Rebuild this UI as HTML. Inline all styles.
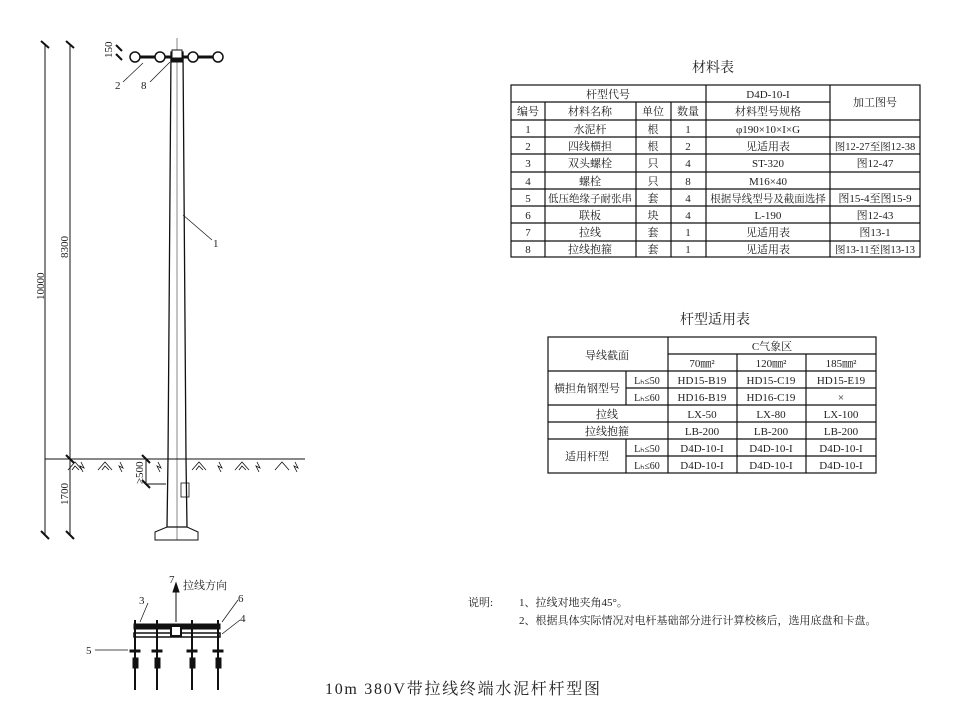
<!DOCTYPE html>
<html><head><meta charset="utf-8"><style>
body{margin:0;background:#fff}
svg{display:block}
text{font-family:"Liberation Serif","Noto Serif CJK SC","Noto Sans CJK SC",serif;fill:#222}
</style></head><body>
<svg width="963" height="726" viewBox="0 0 963 726" xmlns="http://www.w3.org/2000/svg">
<g stroke="#111" fill="none" stroke-width="1">
<line x1="45" y1="44" x2="45" y2="535"/>
<line x1="70" y1="44" x2="70" y2="535"/>
<line x1="45" y1="459" x2="70" y2="459"/>
<g stroke-width="2">
<line x1="41" y1="41" x2="49" y2="48"/><line x1="66" y1="41" x2="74" y2="48"/>
<line x1="66" y1="455" x2="74" y2="463"/>
<line x1="41" y1="531" x2="49" y2="539"/><line x1="66" y1="531" x2="74" y2="539"/>
<line x1="116" y1="45" x2="122" y2="51"/><line x1="116" y1="54" x2="122" y2="60"/>
<line x1="142" y1="455" x2="150" y2="463"/><line x1="142" y1="480" x2="150" y2="488"/>
</g>
<line x1="146" y1="459" x2="146" y2="484"/>
<line x1="146" y1="484" x2="166" y2="484"/>
<line x1="47" y1="459" x2="305" y2="459"/>
<g stroke-width="0.8">
<path d="M68 470 L75 462 L82 470 M72 470 L75 466 L79 470"/>
<path d="M98 470 L105 462 L112 470 M102 470 L105 466 L109 470"/>
<path d="M192 470 L199 462 L206 470 M196 470 L199 466 L203 470"/>
<path d="M235 470 L242 462 L249 470 M239 470 L242 466 L246 470"/>
<path d="M275 470 L282 462 L289 470"/>
<path d="M81 462 L84 468 L80 466 L83 472"/><path d="M120 462 L123 468 L119 466 L122 472"/>
<path d="M158 462 L161 468 L157 466 L160 472"/><path d="M219 462 L222 468 L218 466 L221 472"/>
<path d="M257 462 L260 468 L256 466 L259 472"/><path d="M295 462 L298 468 L294 466 L297 472"/>
</g>
<path d="M171 52 L183 52 L186 459 L187 527 L167 527 L168 459 Z" stroke-width="1.3"/>
<line x1="177" y1="38" x2="177" y2="540" stroke-width="0.5"/>
<path d="M167 527 L187 527 L198 532 L198 540 L155 540 L155 532 Z"/>
<rect x="181" y="483" width="8" height="14" stroke-width="0.8"/>
<line x1="134" y1="57" x2="218" y2="57" stroke-width="3"/>
<g fill="#fff" stroke-width="1.5">
<circle cx="135" cy="57" r="5"/><circle cx="160" cy="57" r="5"/><circle cx="193" cy="57" r="5"/><circle cx="218" cy="57" r="5"/>
</g>
<rect x="172" y="50" width="10" height="9" fill="#fff"/>
<rect x="172" y="58" width="10" height="4" fill="#111"/>
<line x1="143" y1="63" x2="123" y2="82" stroke-width="0.7"/>
<line x1="170" y1="62" x2="150" y2="82" stroke-width="0.7"/>
<line x1="183" y1="215" x2="212" y2="240" stroke-width="0.7"/>
<line x1="176" y1="622" x2="176" y2="590"/>
<path d="M173 592 L176 583 L179 592 Z" fill="#111"/>
<rect x="134" y="624" width="86" height="5" fill="#111"/>
<rect x="134" y="633" width="86" height="4" stroke-width="1.5"/>
<rect x="171" y="626" width="10" height="10" fill="#fff" stroke-width="2"/>
<g stroke-width="2">
<line x1="135" y1="620" x2="135" y2="690"/><line x1="157" y1="620" x2="157" y2="690"/>
<line x1="192" y1="620" x2="192" y2="690"/><line x1="218" y1="620" x2="218" y2="690"/>
</g>
<g fill="#111">
<rect x="130" y="650" width="10" height="2"/><rect x="152" y="650" width="10" height="2"/><rect x="187" y="650" width="10" height="2"/><rect x="213" y="650" width="10" height="2"/>
<rect x="133" y="658" width="5" height="10"/><rect x="155" y="658" width="5" height="10"/><rect x="190" y="658" width="5" height="10"/><rect x="216" y="658" width="5" height="10"/>
</g>
<line x1="95" y1="650" x2="128" y2="650" stroke-width="0.7"/>
<line x1="148" y1="603" x2="140" y2="622" stroke-width="0.7"/>
<line x1="238" y1="600" x2="222" y2="622" stroke-width="0.7"/>
<line x1="240" y1="620" x2="222" y2="634" stroke-width="0.7"/>
</g>
<g font-size="11">
<text transform="translate(112,58) rotate(-90)">150</text>
<text x="115" y="89">2</text><text x="141" y="89">8</text>
<text x="213" y="247">1</text>
<text transform="translate(44,300) rotate(-90)">10000</text>
<text transform="translate(68,258) rotate(-90)">8300</text>
<text transform="translate(68,505) rotate(-90)">1700</text>
<text transform="translate(143,484) rotate(-90)">≥500</text>
<text x="169" y="583">7</text><text x="183" y="589">拉线方向</text>
<text x="139" y="604">3</text><text x="238" y="602">6</text><text x="240" y="622">4</text>
<text x="86" y="654">5</text>
</g>
<text x="692" y="72" font-size="14">材料表</text>
<g stroke="#111" stroke-width="1.2" fill="none">
<rect x="511" y="85" width="409" height="172"/>
<line x1="511" y1="102" x2="830" y2="102"/>
<line x1="511" y1="120" x2="920" y2="120"/>
<line x1="511" y1="137" x2="920" y2="137"/><line x1="511" y1="154" x2="920" y2="154"/>
<line x1="511" y1="172" x2="920" y2="172"/><line x1="511" y1="189" x2="920" y2="189"/>
<line x1="511" y1="206" x2="920" y2="206"/><line x1="511" y1="223" x2="920" y2="223"/>
<line x1="511" y1="241" x2="920" y2="241"/>
<line x1="545" y1="102" x2="545" y2="257"/><line x1="636" y1="102" x2="636" y2="257"/>
<line x1="671" y1="102" x2="671" y2="257"/><line x1="706" y1="85" x2="706" y2="257"/>
<line x1="830" y1="85" x2="830" y2="257"/>
</g>
<g font-size="11" text-anchor="middle">
<text x="608" y="98">杆型代号</text><text x="768" y="98">D4D-10-I</text><text x="875" y="106">加工图号</text>
<text x="528" y="115">编号</text><text x="590" y="115">材料名称</text><text x="653" y="115">单位</text><text x="688" y="115">数量</text><text x="768" y="115">材料型号规格</text>
<text x="528" y="133">1</text><text x="590" y="133">水泥杆</text><text x="653" y="133">根</text><text x="688" y="133">1</text><text x="768" y="133">φ190×10×I×G</text>
<text x="528" y="150">2</text><text x="590" y="150">四线横担</text><text x="653" y="150">根</text><text x="688" y="150">2</text><text x="768" y="150">见适用表</text><text x="875" y="150" font-size="10.5">图12-27至图12-38</text>
<text x="528" y="167">3</text><text x="590" y="167">双头螺栓</text><text x="653" y="167">只</text><text x="688" y="167">4</text><text x="768" y="167">ST-320</text><text x="875" y="167">图12-47</text>
<text x="528" y="185">4</text><text x="590" y="185">螺栓</text><text x="653" y="185">只</text><text x="688" y="185">8</text><text x="768" y="185">M16×40</text>
<text x="528" y="202">5</text><text x="590" y="202" font-size="10.5">低压绝缘子耐张串</text><text x="653" y="202">套</text><text x="688" y="202">4</text><text x="768" y="202" font-size="10.5">根据导线型号及截面选择</text><text x="875" y="202">图15-4至图15-9</text>
<text x="528" y="219">6</text><text x="590" y="219">联板</text><text x="653" y="219">块</text><text x="688" y="219">4</text><text x="768" y="219">L-190</text><text x="875" y="219">图12-43</text>
<text x="528" y="236">7</text><text x="590" y="236">拉线</text><text x="653" y="236">套</text><text x="688" y="236">1</text><text x="768" y="236">见适用表</text><text x="875" y="236">图13-1</text>
<text x="528" y="253">8</text><text x="590" y="253">拉线抱箍</text><text x="653" y="253">套</text><text x="688" y="253">1</text><text x="768" y="253">见适用表</text><text x="875" y="253" font-size="10.5">图13-11至图13-13</text>
</g>
<text x="680" y="324" font-size="14">杆型适用表</text>
<g stroke="#111" stroke-width="1.2" fill="none">
<rect x="548" y="337" width="328" height="136"/>
<line x1="668" y1="354" x2="876" y2="354"/>
<line x1="548" y1="371" x2="876" y2="371"/>
<line x1="626" y1="388" x2="876" y2="388"/>
<line x1="548" y1="405" x2="876" y2="405"/><line x1="548" y1="422" x2="876" y2="422"/>
<line x1="548" y1="439" x2="876" y2="439"/><line x1="626" y1="456" x2="876" y2="456"/>
<line x1="626" y1="371" x2="626" y2="405"/><line x1="626" y1="439" x2="626" y2="473"/>
<line x1="668" y1="337" x2="668" y2="473"/>
<line x1="737" y1="354" x2="737" y2="473"/><line x1="806" y1="354" x2="806" y2="473"/>
</g>
<g font-size="11" text-anchor="middle">
<text x="607" y="359">导线截面</text><text x="772" y="350">C气象区</text>
<text x="702" y="367">70㎜²</text><text x="771" y="367">120㎜²</text><text x="841" y="367">185㎜²</text>
<text x="587" y="392">横担角钢型号</text>
<text x="647" y="384" font-size="10">Lₕ≤50</text><text x="647" y="401" font-size="10">Lₕ≤60</text>
<text x="702" y="384">HD15-B19</text><text x="771" y="384">HD15-C19</text><text x="841" y="384">HD15-E19</text>
<text x="702" y="401">HD16-B19</text><text x="771" y="401">HD16-C19</text><text x="841" y="401">×</text>
<text x="607" y="418">拉线</text><text x="702" y="418">LX-50</text><text x="771" y="418">LX-80</text><text x="841" y="418">LX-100</text>
<text x="607" y="435">拉线抱箍</text><text x="702" y="435">LB-200</text><text x="771" y="435">LB-200</text><text x="841" y="435">LB-200</text>
<text x="587" y="460">适用杆型</text>
<text x="647" y="452" font-size="10">Lₕ≤50</text><text x="647" y="469" font-size="10">Lₕ≤60</text>
<text x="702" y="452">D4D-10-I</text><text x="771" y="452">D4D-10-I</text><text x="841" y="452">D4D-10-I</text>
<text x="702" y="469">D4D-10-I</text><text x="771" y="469">D4D-10-I</text><text x="841" y="469">D4D-10-I</text>
</g>
<g font-size="11">
<text x="468" y="606">说明:</text>
<text x="519" y="606">1、拉线对地夹角45°。</text>
<text x="519" y="624">2、根据具体实际情况对电杆基础部分进行计算校核后，选用底盘和卡盘。</text>
</g>
<text x="325" y="694" font-size="16" textLength="275" lengthAdjust="spacing">10m 380V带拉线终端水泥杆杆型图</text>
</svg>
</body></html>
